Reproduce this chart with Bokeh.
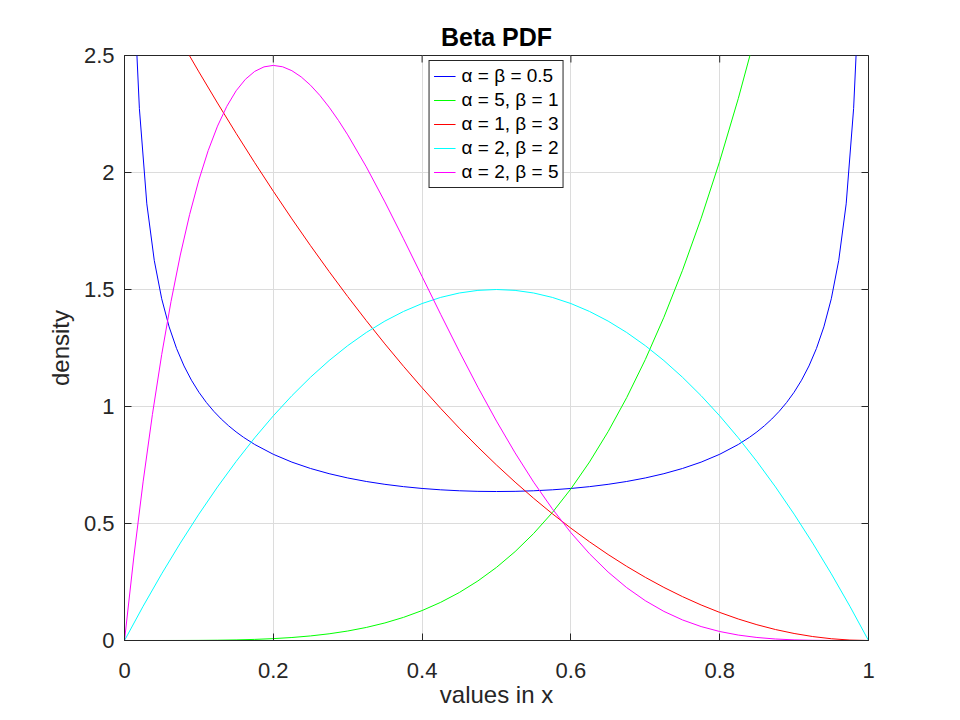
from bokeh.plotting import figure
from bokeh.models import Range1d, FixedTicker
from bokeh.embed import file_html
from bokeh.resources import INLINE

# sample points shared by the smooth curves
x = [0, 0.025, 0.05, 0.075, 0.1, 0.125, 0.15, 0.175, 0.2, 0.225, 0.25, 0.275,
     0.3, 0.325, 0.35, 0.375, 0.4, 0.425, 0.45, 0.475, 0.5, 0.525, 0.55, 0.575,
     0.6, 0.625, 0.65, 0.675, 0.7, 0.725, 0.75, 0.775, 0.8, 0.825, 0.85, 0.875,
     0.9, 0.925, 0.95, 0.975, 1]

# alpha = beta = 0.5 (denser near the edges)
x_half = [0.01, 0.015, 0.02, 0.03, 0.04, 0.05, 0.06, 0.07, 0.08, 0.09, 0.1, 0.11,
          0.12, 0.13, 0.14, 0.15, 0.16, 0.175, 0.2, 0.225, 0.25, 0.275, 0.3, 0.325,
          0.35, 0.375, 0.4, 0.425, 0.45, 0.475, 0.5, 0.525, 0.55, 0.575, 0.6, 0.625,
          0.65, 0.675, 0.7, 0.725, 0.75, 0.775, 0.8, 0.825, 0.84, 0.85, 0.86, 0.87,
          0.88, 0.89, 0.9, 0.91, 0.92, 0.93, 0.94, 0.95, 0.96, 0.97, 0.98, 0.985, 0.99]
y_half = [3.199, 2.6187, 2.2736, 1.866, 1.6244, 1.4605, 1.3403, 1.2476, 1.1733,
          1.1123, 1.061, 1.0173, 0.97953, 0.9465, 0.91735, 0.89145, 0.86826, 0.83773,
          0.79577, 0.76226, 0.73511, 0.71288, 0.69461, 0.67961, 0.66736, 0.6575,
          0.64975, 0.6439, 0.63983, 0.63741, 0.63662, 0.63741, 0.63983, 0.6439,
          0.64975, 0.6575, 0.66736, 0.67961, 0.69461, 0.71288, 0.73511, 0.76226,
          0.79577, 0.83773, 0.86826, 0.89145, 0.91735, 0.9465, 0.97953, 1.0173,
          1.061, 1.1123, 1.1733, 1.2476, 1.3403, 1.4605, 1.6244, 1.866, 2.2736,
          2.6187, 3.199]

y_5_1 = [0, 0.000002, 0.00003, 0.00016, 0.0005, 0.00122, 0.00253, 0.00469, 0.008,
         0.01281, 0.01953, 0.0286, 0.0405, 0.05578, 0.07503, 0.09888, 0.128,
         0.16313, 0.20503, 0.25454, 0.3125, 0.37985, 0.45753, 0.54657, 0.648,
         0.76294, 0.89253, 1.03797, 1.2005, 1.38141, 1.58203, 1.80375, 2.048,
         2.31625, 2.61003, 2.93091, 3.2805, 3.66047, 4.07253, 4.51844, 5]

y_1_3 = [3, 2.851875, 2.7075, 2.566875, 2.43, 2.296875, 2.1675, 2.041875, 1.92,
         1.801875, 1.6875, 1.576875, 1.47, 1.366875, 1.2675, 1.171875, 1.08,
         0.991875, 0.9075, 0.826875, 0.75, 0.676875, 0.6075, 0.541875, 0.48,
         0.421875, 0.3675, 0.316875, 0.27, 0.226875, 0.1875, 0.151875, 0.12,
         0.091875, 0.0675, 0.046875, 0.03, 0.016875, 0.0075, 0.001875, 0]

y_2_2 = [0, 0.14625, 0.285, 0.41625, 0.54, 0.65625, 0.765, 0.86625, 0.96, 1.04625,
         1.125, 1.19625, 1.26, 1.31625, 1.365, 1.40625, 1.44, 1.46625, 1.485,
         1.49625, 1.5, 1.49625, 1.485, 1.46625, 1.44, 1.40625, 1.365, 1.31625,
         1.26, 1.19625, 1.125, 1.04625, 0.96, 0.86625, 0.765, 0.65625, 0.54,
         0.41625, 0.285, 0.14625, 0]

# alpha = 2, beta = 5 (denser around the peak)
x_2_5 = [0, 0.0125, 0.025, 0.0375, 0.05, 0.0625, 0.075, 0.0875, 0.1, 0.1125, 0.125,
         0.1375, 0.15, 0.1625, 0.175, 0.1875, 0.2, 0.2125, 0.225, 0.2375, 0.25,
         0.2625, 0.275, 0.2875, 0.3, 0.325, 0.35, 0.375, 0.4, 0.425, 0.45, 0.475,
         0.5, 0.525, 0.55, 0.575, 0.6, 0.625, 0.65, 0.675, 0.7, 0.725, 0.75, 0.775,
         0.8, 0.825, 0.85, 0.875, 0.9, 0.925, 0.95, 0.975, 1]
y_2_5 = [0, 0.3566, 0.67777, 0.96551, 1.22176, 1.44839, 1.64721, 1.81995, 1.9683,
         2.09386, 2.19818, 2.28276, 2.34903, 2.39836, 2.43206, 2.45141, 2.4576,
         2.45179, 2.43506, 2.40849, 2.37305, 2.32969, 2.27933, 2.22279, 2.1609,
         2.02404, 1.87431, 1.71662, 1.5552, 1.39374, 1.23533, 1.08256, 0.9375,
         0.80179, 0.6766, 0.56278, 0.4608, 0.37078, 0.29262, 0.22593, 0.1701,
         0.12439, 0.08789, 0.05959, 0.0384, 0.02322, 0.01291, 0.00641, 0.0027,
         0.00088, 0.00018, 0.00001, 0]

x_ticks = [0, 0.2, 0.4, 0.6, 0.8, 1]
y_ticks = [0, 0.5, 1, 1.5, 2, 2.5]

FONT = "Liberation Sans"
TXT = "#262626"

p = figure(frame_width=744, frame_height=585, output_backend="svg",
           toolbar_location=None,
           x_range=Range1d(0, 1), y_range=Range1d(0, 2.5),
           min_border_left=124, min_border_right=76,
           min_border_top=55, min_border_bottom=60,
           title="Beta PDF", x_axis_label="values in x", y_axis_label="density")

p.title.align = "center"
p.title.text_font = FONT
p.title.text_font_size = "25px"
p.title.text_font_style = "bold"
p.title.text_color = "black"

p.outline_line_color = "#262626"
p.outline_line_alpha = 1

p.xaxis.ticker = FixedTicker(ticks=x_ticks)
p.yaxis.ticker = FixedTicker(ticks=y_ticks)
for ax in p.xaxis + p.yaxis:
    ax.major_tick_in = 7
    ax.major_tick_out = 0
    ax.minor_tick_line_color = None
    ax.axis_line_color = "#262626"
    ax.major_tick_line_color = "#262626"
    ax.major_label_text_font = FONT
    ax.major_label_text_font_size = "22px"
    ax.major_label_text_color = TXT
    ax.axis_label_text_font = FONT
    ax.axis_label_text_font_size = "24px"
    ax.axis_label_text_font_style = "normal"
    ax.axis_label_text_color = TXT
p.xaxis.major_label_standoff = 22
p.yaxis.major_label_standoff = 10
p.xaxis.axis_label_standoff = 0
p.yaxis.axis_label_standoff = 7

p.grid.grid_line_color = "#dcdcdc"
p.grid.grid_line_alpha = 1

curves = [
    (x_half, y_half, "#0000ff", "α = β = 0.5"),
    (x, y_5_1, "#00ff00", "α = 5, β = 1"),
    (x, y_1_3, "#ff0000", "α = 1, β = 3"),
    (x, y_2_2, "#00ffff", "α = 2, β = 2"),
    (x_2_5, y_2_5, "#ff00ff", "α = 2, β = 5"),
]
for xs, ys, col, lab in curves:
    p.line(xs, ys, color=col, line_width=1, legend_label=lab)

# box ticks on the top and right edges (outer half clipped by the frame)
p.scatter(x_ticks, [y_ticks[-1]] * len(x_ticks), marker="dash", angle=1.5708,
          size=14, line_color="#262626", line_width=1)
p.scatter([x_ticks[-1]] * len(y_ticks), y_ticks, marker="dash",
          size=14, line_color="#262626", line_width=1)

p.legend.location = "top_center"
p.legend.margin = 5
p.legend.padding = 4
p.legend.spacing = 2
p.legend.glyph_width = 22
p.legend.glyph_height = 18
p.legend.label_height = 18
p.legend.label_standoff = 6
p.legend.label_text_font = FONT
p.legend.label_text_font_size = "19px"
p.legend.label_text_color = "black"
p.legend.border_line_color = "#262626"
p.legend.border_line_alpha = 1
p.legend.background_fill_alpha = 1

open("out.html", "w").write(file_html(p, INLINE))
